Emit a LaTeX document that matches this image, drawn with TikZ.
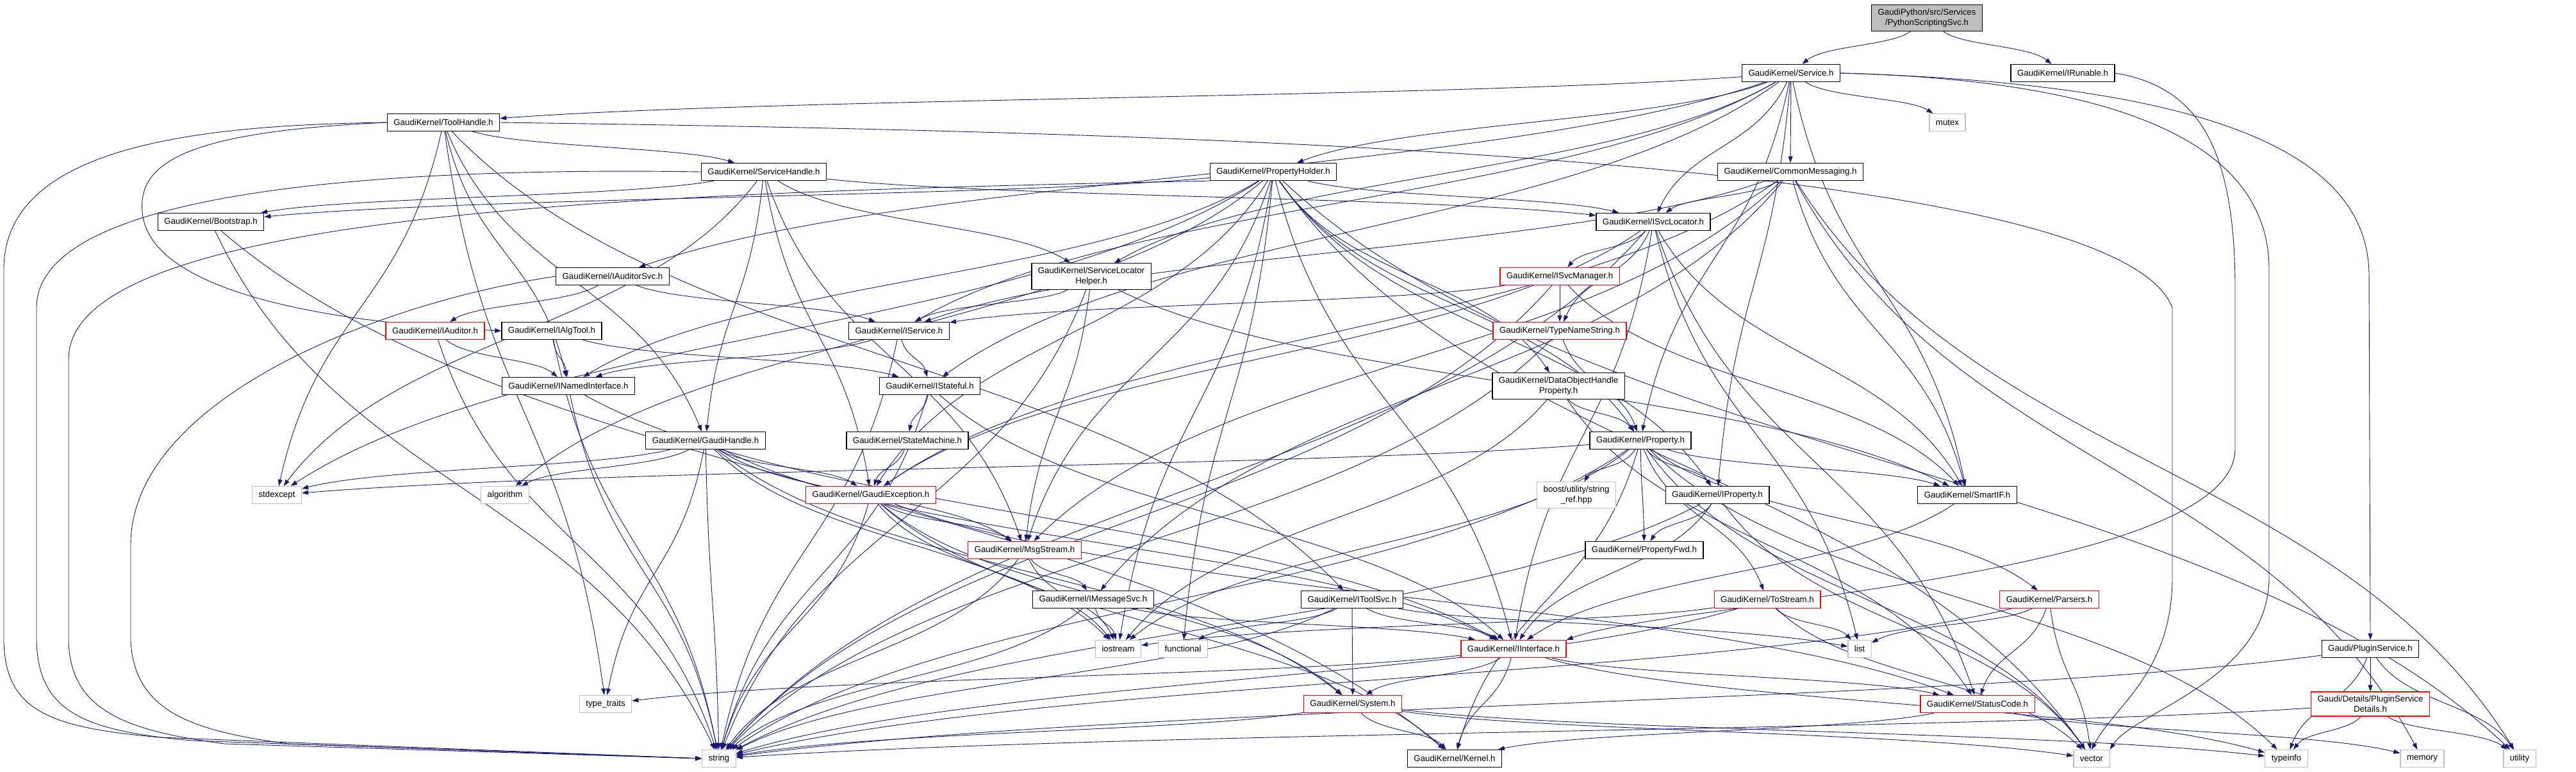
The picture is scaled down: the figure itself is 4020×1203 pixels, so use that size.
\documentclass[tikz,border=0pt]{standalone}
\usepackage{fontspec}
\setmainfont{Liberation Sans}
\usetikzlibrary{arrows.meta,calc}
\definecolor{edgec}{HTML}{191970}
\definecolor{grayb}{HTML}{BFBFBF}
\pgfdeclarelayer{back}
\pgfdeclarelayer{bg}
\pgfsetlayers{back,bg,main}
\begin{document}
\begin{tikzpicture}[x=1pt,y=-1pt,
  nb/.style={draw=black,line width=1.3pt,fill=white,font=\fontsize{13.3}{16}\selectfont,inner xsep=10pt,inner ysep=6pt,minimum height=27pt,align=center},
  rb/.style={nb,draw=red},
  gb/.style={nb,draw=grayb},
  e/.style={draw=edgec,line width=0.9pt,-{Triangle[length=10pt,width=7pt]}}]
\begin{pgfonlayer}{back}
\fill[white] (0,0) rectangle (4020,1203);
\end{pgfonlayer}
\useasboundingbox (0,0) rectangle (4020,1203);
% nodes
\node[nb,fill=grayb] (py) at (3007,28) {GaudiPython/src/Services\\/PythonScriptingSvc.h};
\node[nb] (svc) at (2795,114) {GaudiKernel/Service.h};
\node[nb] (irun) at (3219,114) {GaudiKernel/IRunable.h};
\node[nb] (toolh) at (692,191) {GaudiKernel/ToolHandle.h};
\node[gb] (mutex) at (3039,191) {mutex};
\node[nb] (svch) at (1192,268) {GaudiKernel/ServiceHandle.h};
\node[nb] (ph) at (1987,268) {GaudiKernel/PropertyHolder.h};
\node[nb] (cm) at (2794,268) {GaudiKernel/CommonMessaging.h};
\node[nb] (boot) at (329,346) {GaudiKernel/Bootstrap.h};
\node[nb] (isl) at (2580,346) {GaudiKernel/ISvcLocator.h};
\node[nb] (iaudsvc) at (956,431) {GaudiKernel/IAuditorSvc.h};
\node[nb] (slh) at (1703,431) {GaudiKernel/ServiceLocator\\Helper.h};
\node[rb] (ism) at (2434,431) {GaudiKernel/ISvcManager.h};
\node[rb] (iaud) at (679,516) {GaudiKernel/IAuditor.h};
\node[nb] (ialg) at (861,516) {GaudiKernel/IAlgTool.h};
\node[nb] (isvc) at (1403,516) {GaudiKernel/IService.h};
\node[rb] (tns) at (2434,516) {GaudiKernel/TypeNameString.h};
\node[nb] (ini) at (887,602) {GaudiKernel/INamedInterface.h};
\node[nb] (ist) at (1451,602) {GaudiKernel/IStateful.h};
\node[nb] (dohp) at (2432,602) {GaudiKernel/DataObjectHandle\\Property.h};
\node[nb] (gh) at (1101,687) {GaudiKernel/GaudiHandle.h};
\node[nb] (sm) at (1416,687) {GaudiKernel/StateMachine.h};
\node[nb] (prop) at (2560,687) {GaudiKernel/Property.h};
\node[gb] (stdexc) at (432,772) {stdexcept};
\node[gb] (algo) at (788,772) {algorithm};
\node[rb] (gexc) at (1359,772) {GaudiKernel/GaudiException.h};
\node[gb] (boost) at (2460,772) {boost/utility/string\\\_ref.hpp};
\node[nb] (iprop) at (2680,772) {GaudiKernel/IProperty.h};
\node[nb] (smartif) at (3070,772) {GaudiKernel/SmartIF.h};
\node[rb] (msg) at (1599,858) {GaudiKernel/MsgStream.h};
\node[nb] (pfwd) at (2566,858) {GaudiKernel/PropertyFwd.h};
\node[nb] (imsg) at (1706,935) {GaudiKernel/IMessageSvc.h};
\node[nb] (itool) at (2110,935) {GaudiKernel/IToolSvc.h};
\node[rb] (tostr) at (2758,935) {GaudiKernel/ToStream.h};
\node[rb] (pars) at (3198,935) {GaudiKernel/Parsers.h};
\node[gb] (iostr) at (1745,1012) {iostream};
\node[gb] (func) at (1846,1012) {functional};
\node[rb] (iint) at (2362,1012) {GaudiKernel/IInterface.h};
\node[gb] (list) at (2902,1012) {list};
\node[nb] (plug) at (3699,1012) {Gaudi/PluginService.h};
\node[gb] (tt) at (945,1098) {type\_traits};
\node[rb] (sys) at (2111,1098) {GaudiKernel/System.h};
\node[rb] (sc) at (3086,1098) {GaudiKernel/StatusCode.h};
\node[rb] (det) at (3699,1098) {Gaudi/Details/PluginService\\Details.h};
\node[gb] (str) at (1122,1183) {string};
\node[nb] (kern) at (2270,1183) {GaudiKernel/Kernel.h};
\node[gb] (vec) at (3264,1183) {vector};
\node[gb] (tinfo) at (3568,1183) {typeinfo};
\node[gb] (mem) at (3780,1183) {memory};
\node[gb] (util) at (3932,1183) {utility};
% edges
\begin{pgfonlayer}{bg}
\foreach \a/\b in {py/svc, py/irun,
svc/toolh, svc/ph, svc/cm, svc/isl, svc/mutex, svc/iaudsvc, svc/isvc, svc/ist, svc/slh, svc/smartif, svc/prop, svc/iprop,
toolh/svch, toolh/gh, toolh/ini, toolh/itool, toolh/stdexc, toolh/tt,
svch/boot, svch/isl, svch/slh, svch/gh, svch/gexc, svch/msg, svch/stdexc,
ph/boot, ph/isl, ph/iprop, ph/prop, ph/gexc, ph/msg, ph/dohp, ph/ini, ph/iint, ph/algo, ph/func, ph/iostr, ph/stdexc, ph/vec, ph/util,
cm/isl, cm/isvc, cm/smartif, cm/msg, cm/imsg, cm/gexc, cm/mem, cm/util,
boot/kern, boot/str,
isl/ism, isl/tns, isl/iint, isl/smartif, isl/sc, isl/list, isl/str, isl/gexc,
iaudsvc/isvc, iaudsvc/iaud,
slh/isvc, slh/smartif, slh/msg, slh/str,
ism/isvc, ism/tns, ism/smartif, ism/str,
iaud/ini, iaud/str,
ialg/ini, ialg/ist, ialg/str,
tns/prop, tns/str,
ini/iint, ini/str,
isvc/ini, isvc/ist, isvc/str,
ist/sm, ist/iint, ist/str,
dohp/prop, dohp/iostr, dohp/sc,
gh/stdexc, gh/algo, gh/gexc, gh/msg, gh/sys, gh/iint, gh/str, gh/tt, gh/iostr,
sm/gexc,
prop/stdexc, prop/boost, prop/iprop, prop/pfwd, prop/smartif, prop/tostr, prop/pars, prop/str, prop/vec, prop/tinfo, prop/iostr, prop/kern,
gexc/msg, gexc/sys, gexc/kern, gexc/sc, gexc/str, gexc/iostr,
iprop/pfwd, iprop/iint, iprop/str, iprop/vec,
smartif/iint,
msg/imsg, msg/iostr, msg/str,
imsg/iint, imsg/iostr, imsg/str,
itool/sys, itool/iint, itool/list, itool/func, itool/str,
tostr/list, tostr/vec, tostr/str, tostr/iostr,
pars/sc, pars/list, pars/vec, pars/str,
iint/sys, iint/kern, iint/sc, iint/tt, iint/tinfo,
sys/kern, sys/str, sys/vec, sys/tinfo,
sc/kern, sc/mem,
plug/det, plug/str, plug/tinfo, plug/util,
det/tinfo, det/util, det/str}
  \draw[e] let \p1=(\a), \p2=(\b) in (\a) .. controls ({0.75*\x1+0.25*\x2},{0.5*\y1+0.5*\y2}) and ({0.25*\x1+0.75*\x2},{0.5*\y1+0.5*\y2}) .. (\b);
% routed edges
\draw[e] (toolh.west) .. controls (300,195) and (6,230) .. (6,420) -- (6,1000) .. controls (8,1110) and (80,1135) .. (250,1150) -- (str.west);
\draw[e] (svch.west) .. controls (700,262) and (57,280) .. (57,480) -- (57,1000) .. controls (60,1110) and (130,1140) .. (300,1155) -- (str.west);
\draw[e] (ph.south west) .. controls (1000,300) and (107,330) .. (107,560) -- (107,1000) .. controls (110,1110) and (200,1140) .. (350,1160) -- (str.west);
\draw[e] (iaudsvc.west) .. controls (600,470) and (204,620) .. (204,850) -- (204,1000) .. controls (210,1110) and (300,1140) .. (450,1160) -- (str.west);
\draw[e] (toolh.west) .. controls (300,205) and (215,250) .. (222,330) .. controls (230,440) and (450,500) .. (ialg.west);
\draw[e] (toolh.east) .. controls (1800,205) and (3300,240) .. (3390,480) -- (3390,900) .. controls (3390,1050) and (3300,1100) .. (vec.north);
\draw[e] (svc.east) .. controls (3300,125) and (3541,220) .. (3541,420) -- (3541,900) .. controls (3541,1060) and (3330,1110) .. (vec.north east);
\draw[e] (svc.east) .. controls (3400,130) and (3697,220) .. (3697,430) -- (plug.north);
\draw[e] (irun.east) .. controls (3430,135) and (3488,230) .. (3488,450) -- (3488,700) .. controls (3488,900) and (2600,940) .. (iint.north east);
\end{pgfonlayer}
\end{tikzpicture}
\end{document}
